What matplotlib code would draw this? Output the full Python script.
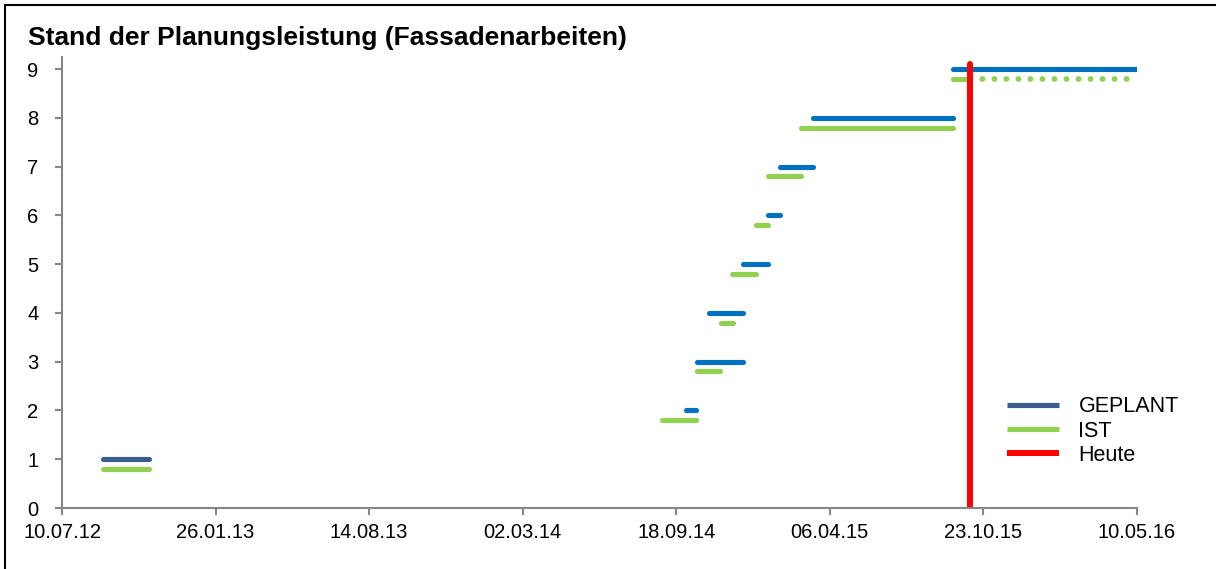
import matplotlib
matplotlib.use("Agg")
import matplotlib.pyplot as plt
import matplotlib.dates as mdates
from matplotlib.lines import Line2D
from matplotlib.patches import Rectangle
import pandas as pd

plt.rcParams['font.family'] = ['Liberation Sans', 'DejaVu Sans']

# Daten: Balken als (Start, Ende, Stufe)
geplant_start = ['2012-09-01', '2014-09-30', '2014-10-15', '2014-10-30', '2014-12-14',
                 '2015-01-15', '2015-01-31', '2015-03-15', '2015-09-14']
geplant_ende = ['2012-10-31', '2014-10-14', '2014-12-14', '2014-12-14', '2015-01-15',
                '2015-01-31', '2015-03-15', '2015-09-14', '2016-05-10']
geplant_stufe = [1, 2, 3, 4, 5, 6, 7, 8, 9]

ist_start = ['2012-09-01', '2014-08-31', '2014-10-15', '2014-11-15', '2014-11-29',
             '2014-12-31', '2015-01-15', '2015-02-27', '2015-09-14']
ist_ende = ['2012-10-31', '2014-10-14', '2014-11-14', '2014-12-01', '2014-12-31',
            '2015-01-15', '2015-02-27', '2015-09-14', '2015-10-06']
ist_stufe = [0.8, 1.8, 2.8, 3.8, 4.8, 5.8, 6.8, 7.8, 8.8]

# Prognose IST (gepunktet)
prognose_start = '2015-10-06'
prognose_ende = '2016-05-10'
prognose_stufe = 8.8

heute = '2015-10-06'
heute_hoehe = 9.1

x_start = '2012-07-10'
x_ende = '2016-05-10'
tick_abstand = '200D'

c_blau = '#0070C0'
c_blau_dunkel = '#3A5E8C'
c_gruen = '#92D050'
c_rot = '#FF0000'
c_achse = '#868686'

fig = plt.figure(figsize=(12.16, 5.69), dpi=100)
ax = fig.add_axes([62/1216, 1-508/569, (1137-62)/1216, (508-57)/569])

lw = 3.7
for i, (s, e, y) in enumerate(zip(geplant_start, geplant_ende, geplant_stufe)):
    farbe = c_blau_dunkel if i == 0 else c_blau
    ax.plot(pd.to_datetime([s, e]), [y, y], color=farbe, lw=lw, solid_capstyle='round')
for s, e, y in zip(ist_start, ist_ende, ist_stufe):
    ax.plot(pd.to_datetime([s, e]), [y, y], color=c_gruen, lw=lw, solid_capstyle='round')

ax.plot(pd.to_datetime([prognose_start, prognose_ende]), [prognose_stufe, prognose_stufe],
        color=c_gruen, lw=4.2, linestyle=(2.0, (0.01, 2.05)), dash_capstyle='round')

ax.plot(pd.to_datetime([heute, heute]), [0, heute_hoehe], color=c_rot, lw=4.3,
        solid_capstyle='round')

ax.set_xlim(pd.Timestamp(x_start), pd.Timestamp(x_ende))
ax.set_ylim(0, 9.25)
ax.set_yticks(range(0, 10))
ticks = pd.date_range(x_start, x_ende, freq=tick_abstand)
ax.set_xticks(ticks)
ax.xaxis.set_major_formatter(mdates.DateFormatter('%d.%m.%y'))

for sp in ['top', 'right']:
    ax.spines[sp].set_visible(False)
for sp in ['left', 'bottom']:
    ax.spines[sp].set_color(c_achse)
    ax.spines[sp].set_linewidth(1.5)
ax.tick_params(axis='both', colors=c_achse, labelcolor='black', labelsize=14.5,
               length=5, width=1.5)
ax.tick_params(axis='y', pad=12)
ax.tick_params(axis='x', pad=6)

fig.text(28/1216, 1-38/569, 'Stand der Planungsleistung (Fassadenarbeiten)',
         fontsize=19, fontweight='bold', va='center', ha='left')

handles = [Line2D([], [], color=c_blau_dunkel, lw=3.7, solid_capstyle='butt'),
           Line2D([], [], color=c_gruen, lw=3.7, solid_capstyle='butt'),
           Line2D([], [], color=c_rot, lw=4.3, solid_capstyle='butt')]
fig.legend(handles, ['GEPLANT', 'IST', 'Heute'], loc='upper left',
           bbox_to_anchor=(988/1216, 1-377/569), frameon=False, fontsize=15.5,
           handlelength=2.4, handletextpad=0.9, labelspacing=0.15)

fig.patches.append(Rectangle((5/1216, -0.1), 1.2, 1-5/569+0.1, transform=fig.transFigure,
                             fill=False, edgecolor='black', lw=1.5))

fig.savefig('out.png', dpi=100)
